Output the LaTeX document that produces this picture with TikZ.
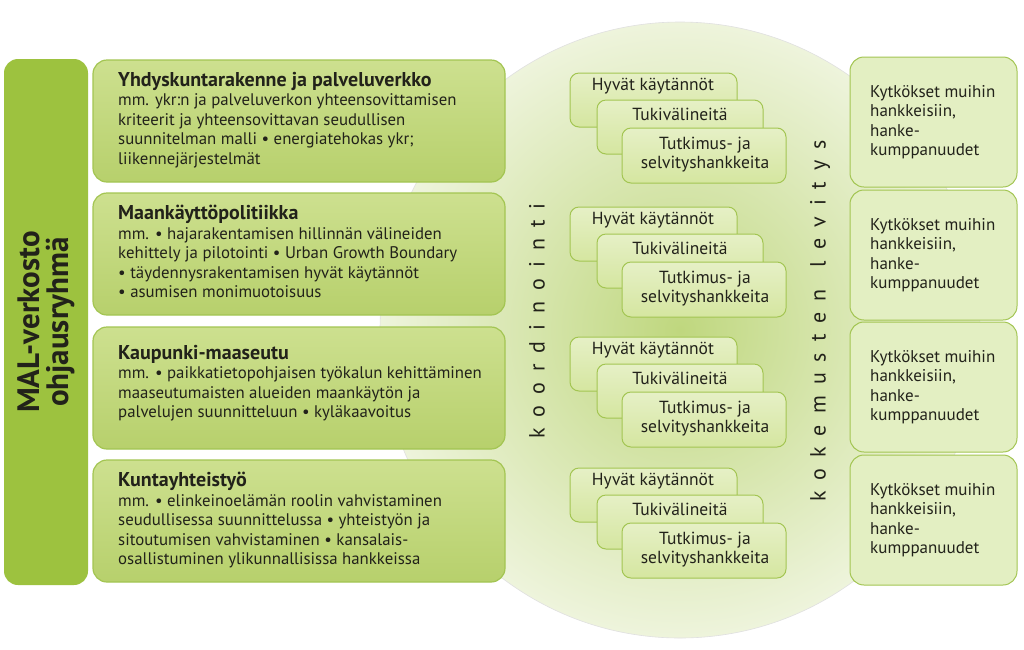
\documentclass[tikz,border=0pt]{standalone}
\usepackage{fontspec}
\setmainfont{PT Sans}
\begin{document}
\begin{tikzpicture}[x=1pt,y=-1pt,
  big/.style={line width=1.2pt, rounded corners=14pt, top color=mainA, bottom color=mainB},
  small/.style={draw=borderc, line width=1pt, rounded corners=9pt, top color=smallc!60!white, bottom color=smallc},
  rightbox/.style={draw=borderc, line width=1pt, rounded corners=14pt, fill=rightc},
  txt/.style={font=\fontsize{16.8}{19.5}\selectfont, text=darkt, align=left, anchor=north west, inner sep=0pt},
  stxt/.style={font=\fontsize{17.5}{19}\selectfont, text=darkt, align=center, inner sep=0pt},
  vert/.style={font=\fontsize{22}{22}\selectfont, text=darkt, rotate=90}]
\definecolor{mainA}{HTML}{CDE08F}
\definecolor{mainB}{HTML}{B7D06C}
\definecolor{borderc}{HTML}{A3C552}
\definecolor{smallc}{HTML}{D5E6A0}
\definecolor{rightc}{HTML}{E3EFC2}
\definecolor{darkt}{HTML}{22221A}
\definecolor{barc}{HTML}{9DC23F}
\definecolor{circin}{HTML}{BFD77E}
\definecolor{circout}{HTML}{EEF4DC}
\useasboundingbox (0,0) rectangle (1024,649);
\fill[white] (0,0) rectangle (1024,649);
% circle
\shade[inner color=circin, outer color=circout] (680,330) ellipse [x radius=300, y radius=308];
\draw[black!12, line width=0.6pt] (680,330) ellipse [x radius=300, y radius=308];
% left bar
\node[fill=barc, rounded corners=14pt, minimum width=84, minimum height=526, inner sep=0pt] (bar) at (46,322) {};
\node[vert, font=\fontsize{31}{29}\selectfont\bfseries, align=center] (barT) at (bar) {MAL-verkosto\\ohjausryhmä};
% main boxes
\foreach \i/\y in {1/60,2/193,3/327,4/460}{
  \draw[big, draw=borderc] (93,\y) rectangle (505,\y+122);
}
\node[txt] (t1) at (118,72) {\textbf{\fontsize{20}{21}\selectfont Yhdyskuntarakenne ja palveluverkko}\\mm. ykr:n ja palveluverkon yhteensovittamisen\\kriteerit ja yhteensovittavan seudullisen\\suunnitelman malli • energiatehokas ykr;\\liikennejärjestelmät};
\node[txt] (t2) at (118,205) {\textbf{\fontsize{20}{21}\selectfont Maankäyttöpolitiikka}\\mm. • hajarakentamisen hillinnän välineiden\\kehittely ja pilotointi • Urban Growth Boundary\\• täydennysrakentamisen hyvät käytännöt\\• asumisen monimuotoisuus};
\node[txt] (t3) at (118,345) {\textbf{\fontsize{20}{21}\selectfont Kaupunki-maaseutu}\\mm. • paikkatietopohjaisen työkalun kehittäminen\\maaseutumaisten alueiden maankäytön ja\\palvelujen suunnitteluun • kyläkaavoitus};
\node[txt] (t4) at (118,472) {\textbf{\fontsize{20}{21}\selectfont Kuntayhteistyö}\\mm. • elinkeinoelämän roolin vahvistaminen\\seudullisessa suunnittelussa • yhteistyön ja\\sitoutumisen vahvistaminen • kansalais-\\osallistuminen ylikunnallisissa hankkeissa};
% small stacks
\foreach \i/\d in {1/0,2/134,3/264,4/395}{
  \draw[small] (570,73+\d) rectangle (737,127+\d);
  \node[stxt] (h\i) at (653,86+\d) {Hyvät käytännöt};
  \draw[small] (597,100+\d) rectangle (763,154+\d);
  \node[stxt] (k\i) at (680,114+\d) {Tukivälineitä};
  \draw[small] (622,128+\d) rectangle (786,183+\d);
  \node[stxt] (s\i) at (705,155+\d) {Tutkimus- ja\\selvityshankkeita};
}
% right boxes
\foreach \i/\y in {1/57,2/190,3/322,4/455}{
  \draw[rightbox] (850,\y) rectangle (1017,\y+130);
  \node[txt, font=\fontsize{17}{19.5}\selectfont] (r\i) at (870,\y+28) {Kytkökset muihin\\hankkeisiin,\\hanke-\\kumppanuudet};
}
\node[vert] (ko) at (537,321) {k\,\,\,o\,\,\,o\,\,\,r\,\,\,d\,\,\,i\,\,\,n\,\,\,o\,\,\,i\,\,\,n\,\,\,t\,\,\,i};
\node[vert] (le) at (820,321) {k\,\,\,o\,\,\,k\,\,\,e\,\,\,m\,\,\,u\,\,\,s\,\,\,t\,\,\,e\,\,\,n\,\,\,\,\,\,l\,\,\,e\,\,\,v\,\,\,i\,\,\,t\,\,\,y\,\,\,s};
\end{tikzpicture}
\end{document}
